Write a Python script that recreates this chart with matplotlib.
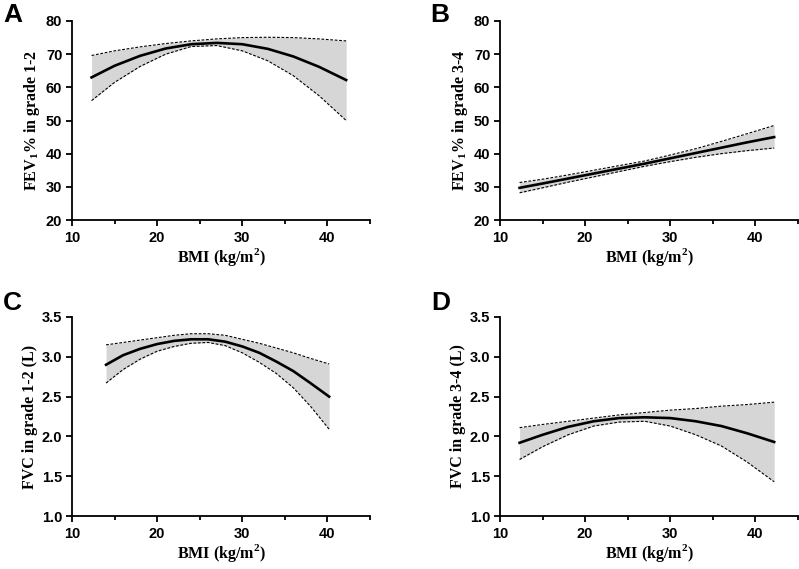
import matplotlib
matplotlib.use("Agg")
import matplotlib.pyplot as plt
from matplotlib.ticker import MultipleLocator, FormatStrFormatter, NullLocator

plt.rcParams['mathtext.fontset'] = 'custom'
plt.rcParams['mathtext.rm'] = 'Liberation Serif:bold'
plt.rcParams['mathtext.bf'] = 'Liberation Serif:bold'

# panel A: FEV1% grade 1-2
xA = [12.3, 15, 18, 21, 24, 27, 30, 33, 36, 39, 42.2]
midA = [63.0, 66.5, 69.5, 71.7, 73.0, 73.4, 73.0, 71.6, 69.3, 66.2, 62.2]
upA = [69.6, 71.0, 72.2, 73.2, 74.0, 74.6, 75.0, 75.1, 75.0, 74.6, 74.0]
loA = [56.0, 61.5, 66.3, 70.0, 72.3, 72.6, 71.0, 68.0, 63.5, 57.5, 50.0]

# panel B: FEV1% grade 3-4
xB = [12.3, 15, 18, 21, 24, 27, 30, 33, 36, 39, 42.2]
midB = [29.7, 31.0, 32.5, 34.0, 35.5, 37.0, 38.6, 40.2, 41.8, 43.4, 45.0]
upB = [31.3, 32.3, 33.6, 35.0, 36.4, 37.8, 39.6, 41.5, 43.7, 46.0, 48.5]
loB = [28.2, 29.7, 31.4, 33.0, 34.6, 36.2, 37.6, 38.9, 40.0, 40.9, 41.7]

# panel C: FVC grade 1-2
xC = [14, 16, 18, 20, 22, 24, 26, 28, 30, 32, 34, 36, 38, 40.2]
midC = [2.90, 3.02, 3.10, 3.16, 3.20, 3.22, 3.22, 3.19, 3.13, 3.05, 2.94, 2.82, 2.67, 2.50]
upC = [3.15, 3.18, 3.21, 3.24, 3.27, 3.29, 3.29, 3.27, 3.22, 3.17, 3.11, 3.05, 2.98, 2.91]
loC = [2.67, 2.84, 2.97, 3.07, 3.13, 3.17, 3.18, 3.14, 3.05, 2.93, 2.79, 2.61, 2.38, 2.09]

# panel D: FVC grade 3-4
xD = [12.3, 15, 18, 21, 24, 27, 30, 33, 36, 39, 42.2]
midD = [1.92, 2.02, 2.12, 2.19, 2.23, 2.24, 2.23, 2.19, 2.13, 2.04, 1.93]
upD = [2.11, 2.15, 2.19, 2.23, 2.27, 2.30, 2.33, 2.35, 2.38, 2.40, 2.43]
loD = [1.71, 1.87, 2.02, 2.13, 2.18, 2.19, 2.13, 2.02, 1.88, 1.68, 1.43]

panels = [
    ('A', xA, midA, upA, loA, r'FEV$_\mathbf{1}$% in grade 1-2', (20, 80), 10),
    ('B', xB, midB, upB, loB, r'FEV$_\mathbf{1}$% in grade 3-4', (20, 80), 10),
    ('C', xC, midC, upC, loC, 'FVC in grade 1-2 (L)', (1.0, 3.5), 0.5),
    ('D', xD, midD, upD, loD, 'FVC in grade 3-4 (L)', (1.0, 3.5), 0.5),
]

W, H = 799, 569
rects = [(72, 21), (500, 21), (72, 317), (500, 317)]
letter_pos = [(3, 3), (430, 3), (3, 291), (431, 291)]
aw, ah = 298, 199

fig = plt.figure(figsize=(W / 100, H / 100), dpi=100)

for (letter, x, mid, up, lo, ylab, ylim, ystep), (px, py), (lx, ly) in zip(panels, rects, letter_pos):
    ax = fig.add_axes([px / W, 1 - (py + ah) / H, aw / W, ah / H])
    ax.fill_between(x, lo, up, color='#d6d6d6', lw=0)
    ax.plot(x, up, color='black', lw=0.8, ls=(0, (2.5, 1.5)))
    ax.plot(x, lo, color='black', lw=0.8, ls=(0, (2.5, 1.5)))
    ax.plot(x, mid, color='black', lw=1.9)
    ax.set_xlim(10, 45)
    ax.set_ylim(*ylim)
    ax.xaxis.set_major_locator(MultipleLocator(10))
    ax.xaxis.set_minor_locator(MultipleLocator(5))
    ax.yaxis.set_major_locator(MultipleLocator(ystep))
    ax.yaxis.set_minor_locator(NullLocator())
    if ystep < 1:
        ax.yaxis.set_major_formatter(FormatStrFormatter('%.1f'))
    for s in ['top', 'right']:
        ax.spines[s].set_visible(False)
    for s in ['left', 'bottom']:
        ax.spines[s].set_linewidth(1.3)
    ax.tick_params(which='major', length=4, width=1.3, direction='out')
    ax.tick_params(which='minor', length=3, width=1.3, direction='out')
    ax.tick_params(axis='x', which='major', pad=4)
    ax.tick_params(axis='y', which='major', pad=3)
    for lab in ax.get_xticklabels() + ax.get_yticklabels():
        lab.set_fontfamily('Liberation Sans')
        lab.set_fontweight('bold')
        lab.set_fontsize(10.5)
    ax.set_xlabel(r'BMI (kg/m$^\mathbf{2}$)', fontfamily='Liberation Serif',
                  fontweight='bold', fontsize=11.5, labelpad=1)
    ax.set_ylabel(ylab, fontfamily='Liberation Serif', fontweight='bold',
                  fontsize=11.5, labelpad=3)
    fig.text(lx / W, 1 - ly / H, letter, fontfamily='Liberation Sans',
             fontweight='bold', fontsize=19, va='top', ha='left')

fig.savefig('out.png', dpi=100)
